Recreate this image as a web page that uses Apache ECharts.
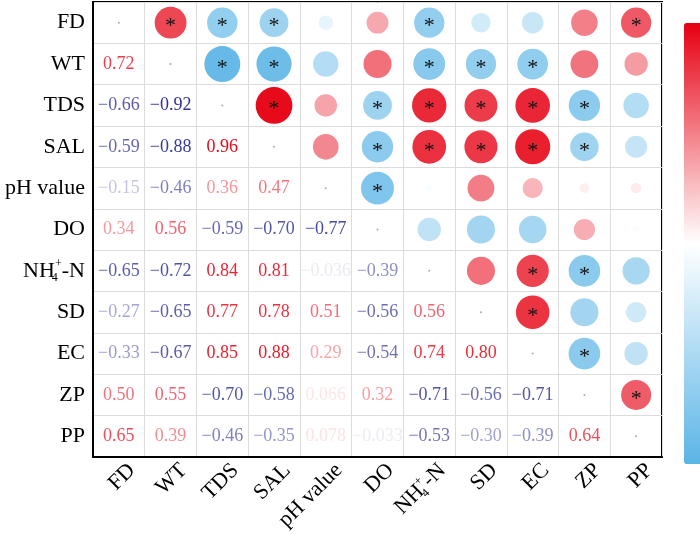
<!DOCTYPE html>
<html><head><meta charset="utf-8">
<script src="https://cdn.jsdelivr.net/npm/echarts@6/dist/echarts.min.js"></script>
<style>html,body{margin:0;padding:0;background:#fff}#c{width:700px;height:535px}</style>
</head><body><div id="c"></div>
<script>
const categories = ['FD','WT','TDS','SAL','pH value','DO','NH4','SD','EC','ZP','PP'];
// lower-triangle correlation values, row i, columns 0..i-1
const lowerRows = [
  [],
  [0.72],
  [-0.66,-0.92],
  [-0.59,-0.88,0.96],
  [-0.15,-0.46,0.36,0.47],
  [0.34,0.56,-0.59,-0.70,-0.77],
  [-0.65,-0.72,0.84,0.81,-0.036,-0.39],
  [-0.27,-0.65,0.77,0.78,0.51,-0.56,0.56],
  [-0.33,-0.67,0.85,0.88,0.29,-0.54,0.74,0.80],
  [0.50,0.55,-0.70,-0.58,0.066,0.32,-0.71,-0.56,-0.71],
  [0.65,0.39,-0.46,-0.35,0.078,-0.033,-0.53,-0.30,-0.39,0.64]
];
// significant pairs [row, col] in the upper triangle
const sigPairs = [[0,1],[0,2],[0,3],[0,6],[0,10],[1,2],[1,3],[1,6],[1,7],[1,8],
  [2,3],[2,5],[2,6],[2,7],[2,8],[2,9],[3,5],[3,6],[3,7],[3,8],[3,9],[4,5],
  [6,8],[6,9],[7,8],[8,9],[9,10]];

const SERIF = 'Liberation Serif';
function mix(c, t){
  const r = Math.round(255 + (c[0]-255)*t), g = Math.round(255 + (c[1]-255)*t), b = Math.round(255 + (c[2]-255)*t);
  return 'rgb(' + r + ',' + g + ',' + b + ')';
}
function textColor(v){
  return v >= 0 ? mix([230,0,18], Math.pow(v, 0.85)) : mix([35,38,140], Math.pow(-v, 0.7));
}
function fmt(v){
  const s = Math.abs(v) < 0.1 ? v.toPrecision(2) : v.toFixed(2);
  return s.replace('-', '\u2212');
}
const isSig = (i,j) => sigPairs.some(p => p[0]===i && p[1]===j);

const circleData = [], textData = [], diagData = [];
for (let i = 0; i < categories.length; i++) {
  diagData.push([i, i]);
  for (let j = 0; j < i; j++) {
    const v = lowerRows[i][j];
    textData.push({value: [j, i, v], label: {color: textColor(v)}});
    circleData.push({value: [i, j, v], label: {show: isSig(j, i)}});
  }
}

function catLabel(name){
  return name === 'NH4' ? '{n|NH}{s|4}{p|+}{n|-N}' : '{n|' + name + '}';
}
const rich = {
  n: {fontFamily: SERIF, fontSize: 22, color: '#000', lineHeight: 26},
  s: {fontFamily: SERIF, fontSize: 12, color: '#000', verticalAlign: 'bottom', align: 'left', width: 0},
  p: {fontFamily: SERIF, fontSize: 12, color: '#000', verticalAlign: 'top', align: 'left', width: 7}
};

const chart = echarts.init(document.getElementById('c'));
chart.setOption({
  animation: false,
  grid: {left: 93, top: 2, width: 569, height: 455, show: true, borderColor: '#000', borderWidth: 2, backgroundColor: 'transparent'},
  xAxis: {type: 'category', data: categories,
    axisLine: {lineStyle: {color: '#000', width: 2}}, axisTick: {show: false},
    splitLine: {show: true, interval: 0, lineStyle: {color: '#dcdcdc', width: 1}},
    axisLabel: {interval: 0, rotate: 45, margin: -3, padding: [37, 0, 0, 0], formatter: catLabel, rich: rich}},
  yAxis: {type: 'category', data: categories, inverse: true,
    axisLine: {lineStyle: {color: '#000', width: 2}}, axisTick: {show: false},
    splitLine: {show: true, interval: 0, lineStyle: {color: '#dcdcdc', width: 1}},
    axisLabel: {interval: 0, margin: 8, formatter: catLabel, rich: rich}},
  visualMap: {type: 'continuous', min: -1, max: 1, dimension: 2, seriesIndex: 0,
    calculable: false, hoverLink: false, left: 669, top: 8, itemWidth: 31, itemHeight: 441,
    text: null, showLabel: false,
    inRange: {color: ['#5ab4e6', '#ffffff', '#e60012']}},
  series: [
    {type: 'scatter', data: circleData, symbol: 'circle',
      symbolSize: v => 37.5 * Math.sqrt(Math.abs(v[2])),
      itemStyle: {opacity: 1},
      label: {show: false, position: 'inside', formatter: '*', color: '#111', fontFamily: SERIF, fontSize: 22, offset: [0, 4]}},
    {type: 'scatter', data: textData, symbolSize: 0, itemStyle: {opacity: 1},
      label: {show: true, position: 'inside', formatter: p => fmt(p.value[2]), fontFamily: SERIF, fontSize: 18}},
    {type: 'scatter', data: diagData, symbolSize: 2, itemStyle: {color: '#aaaaaa', opacity: 1}}
  ]
});
</script></body></html>
